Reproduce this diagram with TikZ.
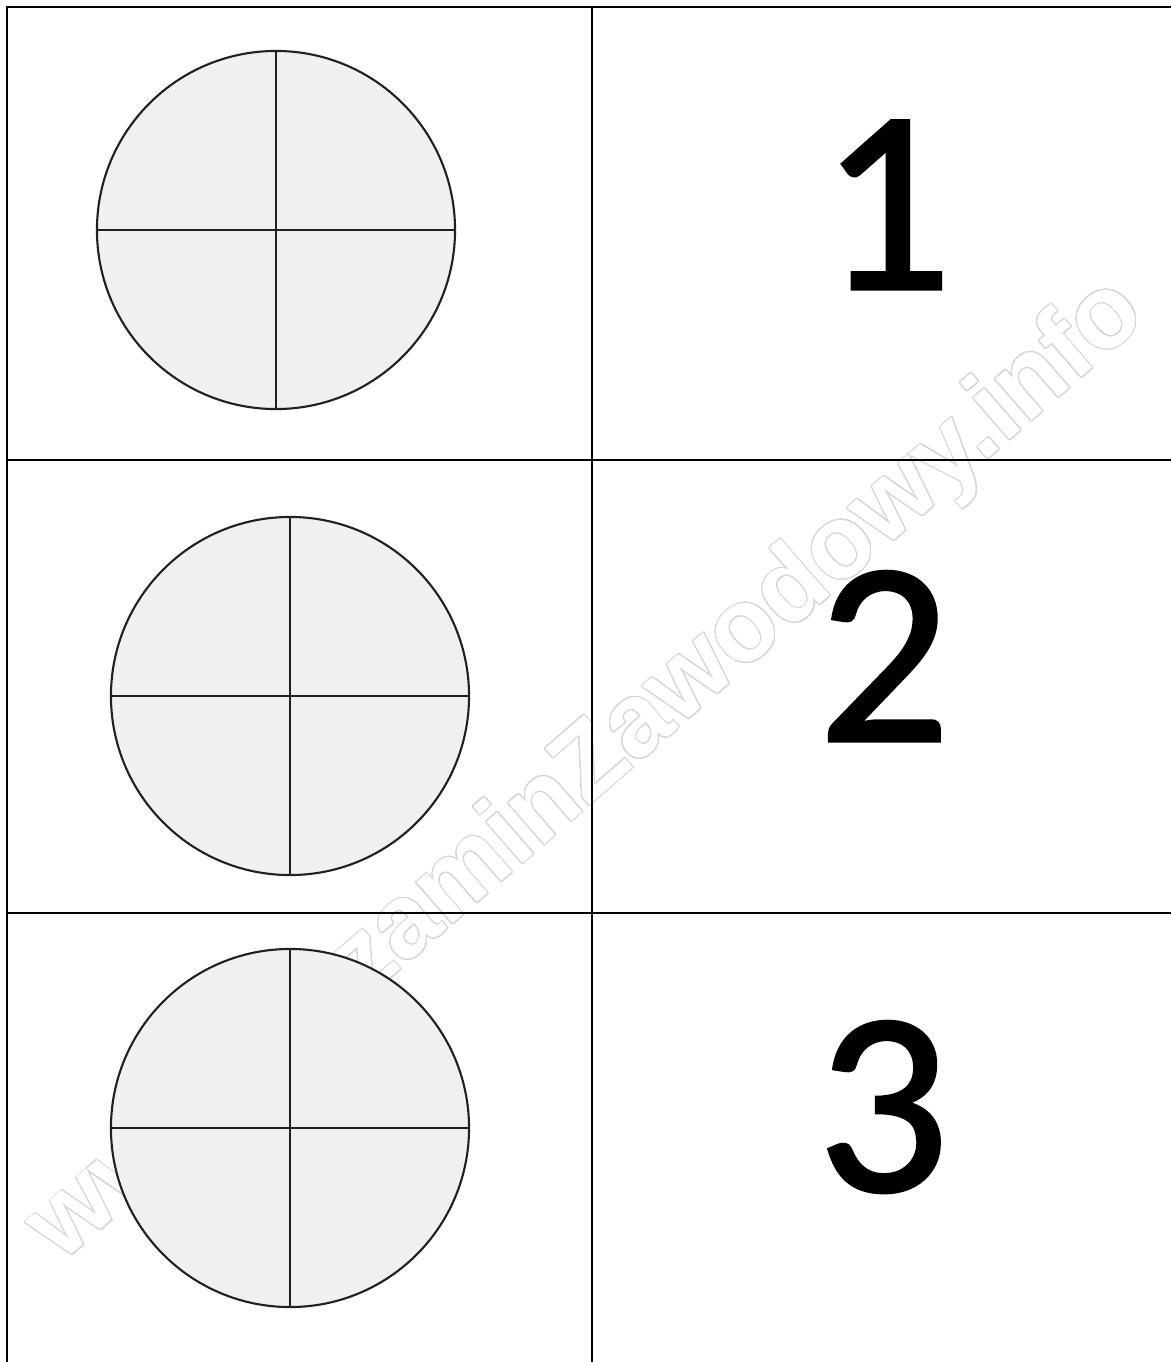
\documentclass[tikz,border=0pt]{standalone}
\usepackage{fontspec}
\usepackage{contour}
\newfontfamily\numfont{Carlito}[FakeBold=1.2]
\newfontfamily\wmfont{Liberation Sans}
\definecolor{pieline}{HTML}{231F20}
\definecolor{piefill}{HTML}{EFF0F2}
\definecolor{wmgray}{HTML}{D6D6D6}
\contourlength{0.7pt}
\contournumber{32}
\tikzset{
  grid line/.style={line width=1.9pt, black},
  pie/.style={circle, draw=pieline, fill=piefill, line width=1.5pt,
    minimum size=8.95cm, inner sep=0pt, outer sep=0pt},
  quarter/.style={draw=pieline, line width=1.4pt},
  digit/.style={anchor=base, inner sep=0pt,
    font={\numfont\fontsize{186pt}{190pt}\selectfont}}
}
\begin{document}
\begin{tikzpicture}[x=0.025cm, y=-0.025cm]
\useasboundingbox (0,0) rectangle (1171,1362);
% watermark:
\node[rotate=41, text=white, inner sep=0pt,
  font={\wmfont\bfseries\fontsize{74pt}{74pt}\selectfont}] (wm) at (588,772)
  {\contour{wmgray}{www.EgzaminZawodowy.info}};
% table:
\draw[grid line] (1171,7) -| (7,1362);
\draw[grid line] (592,7) -- (592,1362);
\foreach \y in {460,913} \draw[grid line] (7,\y) -- (1171,\y);
% pies:
\node[pie] (pie1) at (276,230) {};
\node[pie] (pie2) at (290,696) {};
\node[pie] (pie3) at (290,1128) {};
\foreach \p in {pie1,pie2,pie3}
  \draw[quarter] (\p.north) -- (\p.south) (\p.west) -- (\p.east);
% numbers:
\node[digit] (num1) at (886,289) {1};
\node[digit] (num2) at (884,741) {2};
\node[digit] (num3) at (883,1191) {3};
\end{tikzpicture}
\end{document}
